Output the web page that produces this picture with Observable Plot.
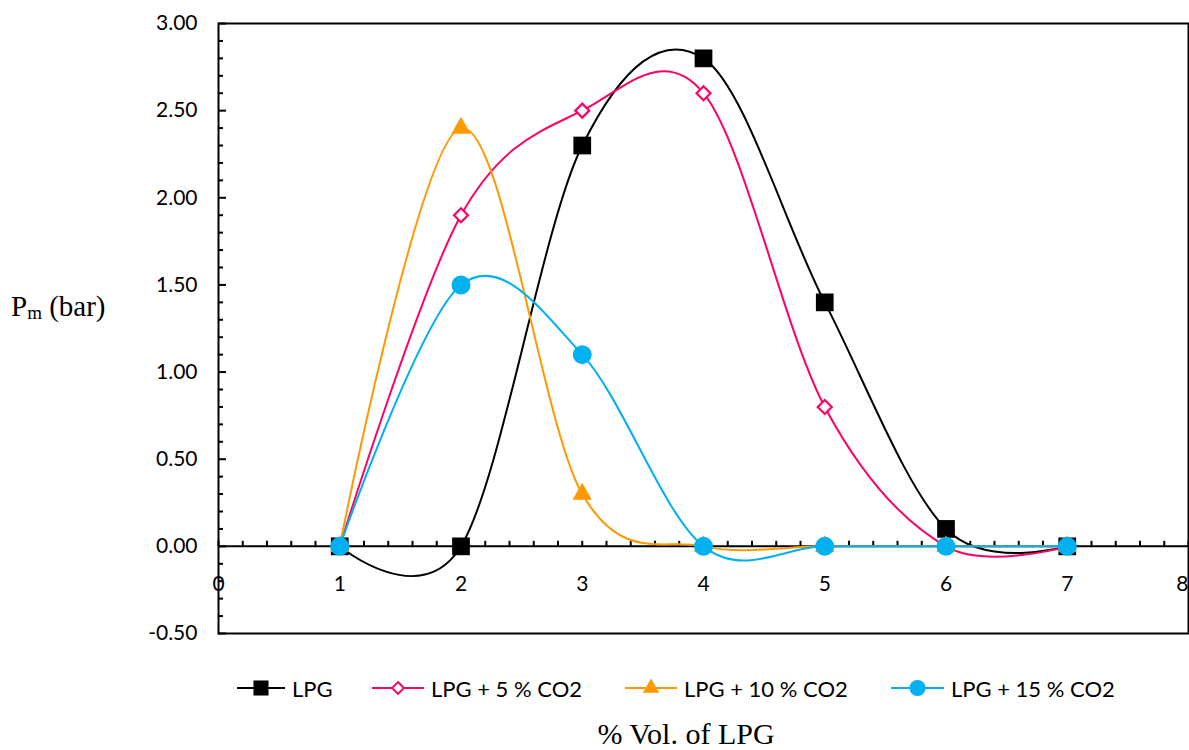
<!DOCTYPE html>
<html>
<head>
<meta charset="utf-8">
<script src="https://cdn.jsdelivr.net/npm/d3@7"></script>
<script src="https://cdn.jsdelivr.net/npm/@observablehq/plot@0.6"></script>
<style>
  html, body { margin: 0; padding: 0; background: #fff; }
  #wrap { position: relative; width: 1189px; height: 750px; overflow: hidden; background: #fff; }
  #chart { position: absolute; left: 0; top: 0; }
  .leg { position: absolute; top: 676px; height: 24px; display: flex; align-items: center; font-family: Lato, "Open Sans", sans-serif; font-size: 22px; color: #000; white-space: nowrap; }
  .leg svg { display: block; margin-right: 7px; }
  #xtitle { position: absolute; top: 717px; left: 0; width: 1189px; padding-left: 183px; box-sizing: border-box; text-align: center; font-family: "Liberation Serif", "Times New Roman", serif; font-size: 30px; color: #000; }
  #ytitle { position: absolute; top: 290px; left: 11px; font-family: "Liberation Serif", "Times New Roman", serif; font-size: 29px; color: #000; white-space: nowrap; }
  #ytitle sub { font-size: 19px; vertical-align: baseline; position: relative; top: 3px; }
</style>
</head>
<body>
<div id="wrap">
  <div id="chart"></div>
  <div id="ytitle">P<sub>m</sub> (bar)</div>
  <div id="legend"></div>
  <div id="xtitle">% Vol. of LPG</div>
</div>
<script>
// ---- data ----
const xValues = [1, 2, 3, 4, 5, 6, 7];
const lpg     = [0, 0, 2.3, 2.8, 1.4, 0.1, 0];
const lpg5    = [0, 1.9, 2.5, 2.6, 0.8, 0, 0];
const lpg10   = [0, 2.4, 0.3, 0, 0, 0, 0];
const lpg15   = [0, 1.5, 1.1, 0, 0, 0, 0];
const seriesNames  = ["LPG", "LPG + 5 % CO2", "LPG + 10 % CO2", "LPG + 15 % CO2"];
const seriesColors = ["#000000", "#FF0066", "#FF9900", "#00B0F0"];
const yTickValues  = [-0.5, 0, 0.5, 1.0, 1.5, 2.0, 2.5, 3.0];
const xTickLabels  = [0, 1, 2, 3, 4, 5, 6, 7, 8];

// ---- build ----
const seriesValues = [lpg, lpg5, lpg10, lpg15];
const symbols = ["square", "diamond2", "triangle", "circle"];
const radii = [10, 6.3, 7.2, 9.5];
const fills = [seriesColors[0], "#ffffff", seriesColors[2], seriesColors[3]];

const rows = seriesNames.map((name, s) => xValues.map((x, i) => ({series: name, x, y: seriesValues[s][i]})));

const yMinor = d3.range(-5, 31).map(k => k / 10).filter(v => !yTickValues.some(t => Math.abs(t - v) < 1e-9));
const xMinor = d3.range(0, 41).map(k => k / 5);
const fmt = d3.format(".2f");
const lastX = xTickLabels[xTickLabels.length - 1];

const marks = [
  Plot.ruleY([0], {stroke: "#000", strokeWidth: 2}),
  Plot.ruleY(yMinor, {y: d => d, x1: 0, x2: 0, insetRight: -5, stroke: "#000", strokeWidth: 2}),
  Plot.ruleY(yTickValues, {y: d => d, x1: 0, x2: 0, insetRight: -8, stroke: "#000", strokeWidth: 2}),
  Plot.ruleX(xMinor, {x: d => d, y1: 0, y2: 0, insetTop: -5, stroke: "#000", strokeWidth: 2}),
  Plot.axisY({ticks: yTickValues, tickFormat: d => fmt(d).replace("−", "-"), tickSize: 0, tickPadding: 21, label: null, fontSize: 21, fontFamily: "Lato"}),
  Plot.text(xTickLabels.filter(d => d !== lastX), {x: d => d, y: 0, dy: 38, text: d => String(d), fontSize: 21, fontFamily: "Lato", fill: "#000"}),
  Plot.text([lastX], {x: d => d, y: 0, dy: 38, text: d => String(d), textAnchor: "end", fontSize: 21, fontFamily: "Lato", fill: "#000"}),
];
seriesNames.forEach((name, s) => {
  marks.push(Plot.line(rows[s], {x: "x", y: "y", stroke: seriesColors[s], strokeWidth: 2, curve: "cardinal"}));
  marks.push(Plot.dot(rows[s], {x: "x", y: "y", symbol: symbols[s], r: radii[s], fill: fills[s], stroke: s === 1 ? seriesColors[s] : "none", strokeWidth: s === 1 ? 2.2 : 0}));
});
marks.push(Plot.frame({stroke: "#000", strokeWidth: 2}));

const chart = Plot.plot({
  width: 1189,
  height: 650,
  marginLeft: 218,
  marginRight: 1,
  marginTop: 23,
  marginBottom: 17,
  x: {domain: [0, 8], axis: null},
  y: {domain: [-0.5, 3], axis: null},
  style: {fontFamily: "Lato", color: "#000", background: "#fff", overflow: "visible"},
  marks
});
document.getElementById("chart").appendChild(chart);

// ---- legend ----
const legendLeft = [237, 372, 625, 891];
const legendWidth = [48, 52, 52, 53];
const legend = document.getElementById("legend");
seriesNames.forEach((name, s) => {
  const item = document.createElement("div");
  item.className = "leg";
  item.style.left = legendLeft[s] + "px";
  const w = legendWidth[s];
  const sw = d3.create("svg").attr("width", w).attr("height", 24);
  sw.append("line").attr("x1", 0).attr("x2", w).attr("y1", 12).attr("y2", 12).attr("stroke", seriesColors[s]).attr("stroke-width", 2);
  const sym = {square: d3.symbolSquare, diamond2: d3.symbolDiamond2, triangle: d3.symbolTriangle, circle: d3.symbolCircle}[symbols[s]];
  const r = radii[s] * 0.85;
  sw.append("path")
    .attr("transform", `translate(${w / 2},12)`)
    .attr("d", d3.symbol(sym, Math.PI * r * r)())
    .attr("fill", fills[s])
    .attr("stroke", s === 1 ? seriesColors[s] : "none")
    .attr("stroke-width", 2);
  item.appendChild(sw.node());
  const t = document.createElement("span");
  t.textContent = name;
  item.appendChild(t);
  legend.appendChild(item);
});
</script>
</body>
</html>
